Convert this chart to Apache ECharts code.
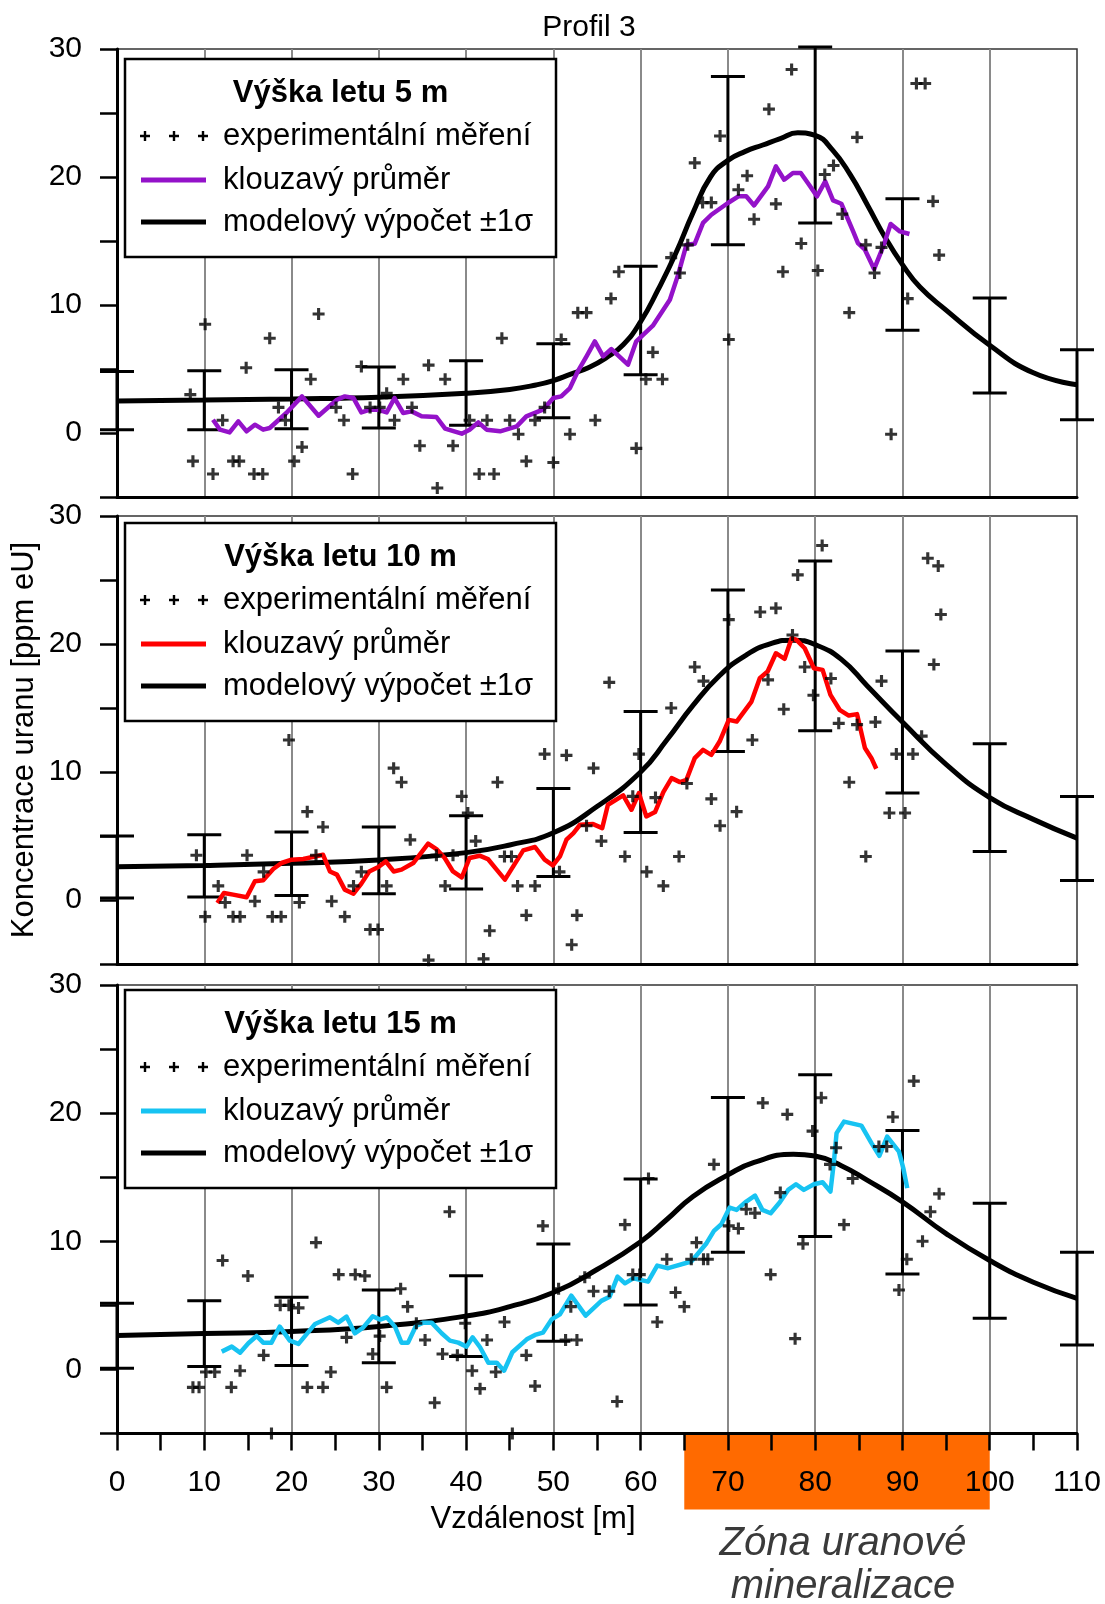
<!DOCTYPE html>
<html>
<head>
<meta charset="utf-8">
<script src="https://cdn.jsdelivr.net/npm/echarts@6/dist/echarts.min.js"></script>
<style>
html, body { margin: 0; padding: 0; background: #fff; }
#chart { width: 1105px; height: 1604px; }
</style>
</head>
<body>
<div id="chart"></div>
<script>
// Profil 3 – uranium concentration along the profile for three flight heights

const FONT = '"Liberation Sans", Arial, sans-serif';

// ---- tick labels / ranges ----
const xTicks = [0, 10, 20, 30, 40, 50, 60, 70, 80, 90, 100, 110];
const yTicks = [0, 10, 20, 30];

// ---- measurements (x = distance [m], y = ppm eU) ----
const scatter5 = [[8.4,3.0],[8.7,-2.2],[10.1,8.5],[11.0,-3.2],[12.1,1.0],[13.3,-2.2],[14.0,-2.2],[14.8,5.1],[15.7,-3.2],[16.7,-3.2],[17.5,7.4],[18.5,2.0],[19.3,1.0],[20.3,-2.2],[21.2,-1.1],[22.2,4.2],[23.1,9.3],[25.1,2.0],[26.0,1.0],[27.0,-3.2],[28.0,5.2],[29.0,2.0],[30.1,2.0],[30.9,3.1],[31.8,1.0],[32.8,4.2],[33.8,2.0],[34.7,-1.0],[35.7,5.3],[36.7,-4.3],[37.6,4.2],[38.5,-1.0],[40.4,1.0],[41.5,-3.2],[42.4,1.0],[43.2,-3.2],[44.1,7.4],[45.0,1.0],[46.0,-0.1],[46.9,-2.2],[47.9,1.0],[49.0,2.0],[50.0,-2.3],[50.9,7.3],[51.9,-0.1],[52.8,9.4],[53.8,9.4],[54.8,1.0],[56.6,10.5],[57.5,12.6],[59.5,-1.2],[60.6,4.2],[61.4,6.3],[62.5,4.2],[63.5,13.7],[64.5,12.5],[65.4,14.7],[66.2,21.1],[67.1,18.0],[68.1,18.0],[69.1,23.2],[70.1,7.3],[71.2,19.0],[72.2,20.1],[73.0,16.7],[74.7,25.3],[75.5,17.9],[76.3,12.6],[77.3,28.4],[78.4,14.8],[80.3,12.7],[81.1,20.2],[82.1,20.9],[83.1,17.1],[83.9,9.4],[84.8,23.1],[85.8,14.7],[86.8,12.5],[87.6,14.5],[88.7,-0.1],[90.6,10.5],[91.6,27.3],[92.6,27.3],[93.5,18.1],[94.2,13.9]];

const scatter10 = [[9.1,3.5],[10.1,-1.3],[11.6,1.1],[12.4,-0.2],[13.3,-1.3],[14.1,-1.3],[14.9,3.5],[15.8,-0.1],[16.8,2.2],[17.8,-1.3],[18.8,-1.3],[19.7,12.5],[20.9,-0.2],[21.8,6.9],[22.8,3.5],[23.6,5.7],[24.6,-0.1],[26.1,-1.3],[27.1,1.1],[28.0,2.2],[29.0,-2.3],[29.9,-2.3],[30.9,1.1],[31.7,10.3],[32.6,9.2],[33.6,4.7],[35.7,-4.7],[36.6,3.5],[37.6,1.1],[38.5,3.5],[39.5,8.1],[40.2,6.8],[41.1,4.6],[42.0,-4.6],[42.7,-2.4],[43.6,9.2],[44.4,3.4],[45.2,3.4],[45.9,1.1],[46.9,-1.2],[47.9,1.1],[49.0,11.4],[50.7,2.2],[51.5,11.3],[52.1,-3.5],[52.7,-1.2],[53.8,5.8],[54.6,10.3],[55.5,4.6],[56.4,17.0],[58.2,3.4],[59.1,8.1],[59.8,11.4],[60.7,2.2],[61.7,8.0],[62.6,1.1],[63.5,15.0],[64.4,3.4],[65.3,9.1],[66.2,18.2],[67.2,17.1],[68.1,7.9],[69.1,5.8],[70.1,21.9],[71.0,6.9],[72.8,12.5],[73.7,22.5],[74.6,17.2],[75.5,22.8],[76.4,14.9],[77.4,20.7],[78.0,25.4],[78.8,18.2],[79.8,16.0],[80.8,27.7],[81.8,17.3],[82.7,13.8],[83.9,9.2],[84.8,13.7],[85.8,3.4],[86.9,13.9],[87.6,17.1],[88.5,6.8],[89.3,11.4],[90.3,6.8],[91.2,11.4],[92.2,12.8],[92.9,26.7],[93.6,18.4],[94.1,26.1],[94.4,22.3]];

const scatter15 = [[8.7,-1.4],[9.4,-1.4],[10.2,-0.2],[11.2,-0.2],[12.1,8.5],[13.1,-1.4],[14.1,-0.1],[15.0,7.3],[16.8,1.1],[17.7,-5.0],[18.7,5.0],[19.7,5.0],[20.8,4.8],[21.8,-1.4],[22.8,9.9],[23.6,-1.4],[24.5,-0.2],[25.4,7.4],[26.3,2.5],[27.3,7.4],[28.4,7.3],[29.3,1.2],[30.1,2.6],[30.9,-1.4],[32.5,6.3],[33.3,4.9],[34.3,3.6],[35.3,2.3],[36.4,-2.6],[37.3,1.2],[38.1,12.3],[39.0,1.1],[39.9,3.6],[40.7,-0.1],[41.6,-1.5],[42.4,2.3],[43.4,-0.2],[44.4,3.7],[45.3,-5.0],[46.9,1.1],[47.9,-1.3],[48.8,11.2],[50.6,6.3],[51.4,2.3],[52.0,4.9],[52.7,2.3],[53.6,7.2],[54.6,6.1],[56.4,6.1],[57.3,-2.5],[58.2,11.3],[59.1,7.4],[59.9,7.4],[60.9,14.9],[61.9,3.7],[63.0,8.6],[64.0,6.0],[65.0,4.9],[65.8,8.6],[66.4,9.9],[67.2,8.6],[67.7,8.6],[68.4,16.0],[70.1,11.2],[71.2,11.0],[72.1,12.5],[73.1,12.2],[74.0,20.8],[74.9,7.4],[76.0,13.8],[76.8,19.9],[77.7,2.4],[78.6,9.8],[79.7,18.6],[80.7,21.2],[81.7,16.0],[82.4,17.3],[83.3,11.3],[84.3,14.9],[87.3,17.4],[88.2,17.4],[88.9,19.7],[89.6,6.2],[90.5,8.6],[91.3,22.5],[92.3,10.0],[93.2,12.3],[94.2,13.7]];

// ---- moving averages ----
const avg5 = [[11.0,1.04],[11.8,0.26],[12.9,0.05],[13.9,0.91],[14.85,0.13],[15.8,0.65],[16.75,0.26],[17.5,0.39],[19.4,1.56],[21.2,2.86],[23.1,1.35],[25.2,2.6],[26.1,2.86],[27.1,2.73],[28.0,1.61],[29.0,1.82],[29.9,1.82],[30.9,1.61],[31.8,2.73],[32.8,1.56],[33.75,1.69],[34.9,1.3],[36.6,1.25],[37.6,0.34],[39.5,-0.05],[40.4,0.26],[41.4,0.83],[42.35,0.26],[43.9,0.13],[45.8,0.52],[46.9,1.3],[48.8,1.82],[50.0,2.73],[50.9,2.86],[51.9,3.51],[52.8,4.82],[53.8,5.99],[54.75,7.16],[55.7,5.99],[56.65,6.56],[58.55,5.34],[59.5,7.16],[61.4,8.38],[63.35,10.41],[64.3,12.37],[65.25,14.71],[66.2,14.79],[67.15,16.41],[68.1,17.05],[70.0,17.97],[71.2,18.49],[72.1,18.49],[73.0,17.78],[74.6,19.27],[75.5,20.83],[76.45,19.79],[77.45,20.31],[78.35,20.31],[79.3,19.4],[80.2,18.49],[81.15,19.66],[82.05,18.17],[83.0,17.91],[84.35,15.75],[84.9,14.84],[85.7,14.32],[86.75,12.81],[87.8,14.58],[88.65,16.33],[89.7,15.75],[90.8,15.55]];

const avg10 = [[11.5,-0.23],[12.25,0.55],[13.3,0.42],[14.85,0.21],[15.8,1.46],[16.75,1.54],[17.9,2.42],[18.85,2.89],[20.0,3.15],[21.35,3.2],[23.6,3.54],[24.4,2.23],[25.2,1.98],[26.1,0.81],[27.1,0.49],[28.0,1.28],[28.9,2.23],[29.95,2.58],[30.8,3.02],[31.7,2.23],[32.6,2.37],[33.95,2.89],[35.65,4.4],[36.6,3.98],[37.55,3.28],[38.5,2.23],[39.5,1.76],[40.4,3.28],[41.55,3.46],[42.5,3.2],[43.5,2.37],[44.45,1.59],[45.4,2.63],[46.55,3.88],[47.9,4.14],[49.0,3.15],[49.95,2.7],[50.75,3.4],[51.5,4.71],[52.3,5.23],[53.05,5.88],[54.55,5.93],[55.6,5.62],[56.25,7.44],[58.0,8.17],[58.95,7.05],[59.8,8.35],[60.65,6.53],[61.65,6.87],[62.6,8.43],[63.55,9.52],[64.5,9.21],[65.25,9.39],[66.2,11.08],[67.15,11.73],[68.1,11.34],[69.05,12.38],[70.1,14.07],[71.0,13.94],[72.7,15.5],[73.65,17.33],[74.55,17.85],[75.5,19.28],[76.5,18.84],[77.3,20.45],[77.85,20.32],[78.8,19.67],[79.85,18.11],[80.85,17.98],[81.75,16.03],[82.8,14.86],[83.85,14.41],[84.8,14.52],[85.7,11.87],[86.45,11.08],[87.0,10.25]];

const avg15 = [[12.0,1.39],[13.15,1.78],[14.1,1.31],[15.05,2.04],[16.0,2.61],[16.75,2.09],[17.7,2.09],[18.65,3.34],[19.8,2.25],[20.8,1.99],[21.75,2.77],[22.7,3.55],[24.4,4.07],[25.35,3.65],[26.3,4.12],[27.25,2.82],[28.2,3.26],[29.3,4.15],[30.15,3.89],[30.9,4.07],[31.85,3.34],[32.6,2.09],[33.35,2.09],[34.25,3.39],[35.1,3.65],[36.05,3.65],[37.2,2.82],[38.15,2.25],[39.1,2.09],[40.05,1.78],[40.75,2.51],[41.6,1.73],[42.55,0.53],[43.5,0.53],[44.35,-0.1],[45.3,1.34],[46.95,2.35],[47.9,2.69],[48.8,2.87],[49.8,3.9],[50.75,4.3],[52.05,5.76],[53.7,4.2],[55.5,5.35],[56.45,5.68],[57.35,7.24],[58.2,6.72],[59.15,7.11],[60.85,6.85],[61.9,8.1],[63.15,7.9],[65.8,8.42],[66.6,9.07],[67.55,9.85],[68.4,10.81],[69.25,11.33],[70.2,12.63],[71.0,12.45],[72.1,13.1],[73.1,13.57],[73.95,12.45],[74.9,12.19],[75.95,13.05],[76.9,14.01],[77.8,14.45],[78.7,14.01],[79.85,14.45],[80.85,14.61],[81.75,13.88],[82.15,16.22],[82.45,18.44],[83.3,19.34],[85.3,19.03],[86.45,17.66],[87.35,16.67],[88.25,18.17],[89.6,17.0],[90.1,15.7],[90.55,14.15]];

// ---- model calculation ----
const model5 = [[0,2.5],[10,2.57],[20,2.66],[30,2.8],[40,3.1],[45,3.4],[48,3.75],[50,4.1],[52,4.6],[54,5.1],[56,5.85],[58,6.9],[60,8.7],[62,11.2],[64,14.0],[66,17.2],[68,20.0],[70,21.3],[72,22.0],[74,22.5],[76,23.0],[78,23.45],[80,23.25],[82,22.1],[84,20.2],[86,17.8],[88,15.3],[90,13.15],[92,11.4],[95,9.6],[100,6.85],[105,4.7],[110,3.77]];
const model10 = [[0,2.6],[10,2.7],[20,2.87],[30,3.13],[40,3.7],[45,4.3],[50,5.25],[55,7.3],[60,10.0],[63,12.5],[66,15.2],[69,17.5],[72,19.1],[75,20.05],[77.5,20.3],[80,19.95],[83,18.8],[86,16.7],[90,13.9],[95,10.6],[100,8.0],[105,6.3],[110,4.83]];
const model15 = [[0,2.65],[10,2.8],[20,2.96],[30,3.35],[40,4.17],[45,4.9],[50,6.0],[55,7.8],[60,9.97],[63,11.7],[66,13.5],[70,15.18],[73,16.15],[77.5,16.8],[80,16.65],[83,15.9],[86,14.75],[90,13.08],[95,10.6],[100,8.5],[105,6.8],[110,5.55]];

// ---- model ±1σ ----
const errX = [0, 10, 20, 30, 40, 50, 60, 70, 80, 90, 100, 110];
const err5Low   = [0.26, 0.26, 0.34, 0.39, 0.60, 1.20, 4.55, 14.71, 16.41, 8.02, 3.12, 1.04];
const err5High  = [4.81, 4.87, 4.95, 5.16, 5.65, 6.97, 13.02, 27.86, 30.15, 18.30, 10.55, 6.50];
const err10Low  = [0.16, 0.23, 0.36, 0.49, 0.86, 1.84, 5.28, 11.60, 13.22, 8.35, 3.79, 1.53];
const err10High = [5.00, 5.10, 5.31, 5.70, 6.58, 8.72, 14.72, 24.22, 26.49, 19.46, 12.20, 8.09];
const err15Low  = [0.09, 0.22, 0.30, 0.53, 1.00, 2.20, 5.03, 9.15, 10.37, 7.45, 4.00, 1.91];
const err15High = [5.17, 5.35, 5.63, 6.20, 7.32, 9.79, 14.87, 21.22, 22.99, 18.64, 12.97, 9.15];

// ---- mineralised zone along the profile ----
const zoneStart = 65;
const zoneEnd = 100;

const panels = [
  { title: 'Výška letu 5 m',  color: '#9412C9', scatter: scatter5,  avg: avg5,  model: model5,  lo: err5Low,  hi: err5High,  top: 49,  legendTop: 59 },
  { title: 'Výška letu 10 m', color: '#FF0000', scatter: scatter10, avg: avg10, model: model10, lo: err10Low, hi: err10High, top: 516, legendTop: 523 },
  { title: 'Výška letu 15 m', color: '#17C3F2', scatter: scatter15, avg: avg15, model: model15, lo: err15Low, hi: err15High, top: 985, legendTop: 990 }
];

const PLOT_LEFT = 117, PLOT_W = 960, PLOT_H = 448;
const PLUS = 'path://M-1.3,-5H1.3V-1.3H5V1.3H1.3V5H-1.3V1.3H-5V-1.3H-1.3Z';
// plus outline for the legend sample (half arm length 5, half thickness 1.2)
const PLUS_POINTS = [[-1.2,-5],[1.2,-5],[1.2,-1.2],[5,-1.2],[5,1.2],[1.2,1.2],[1.2,5],[-1.2,5],[-1.2,1.2],[-5,1.2],[-5,-1.2],[-1.2,-1.2]];

function renderErrorBar(params, api) {
  const x = api.value(0);
  const pLo = api.coord([x, api.value(1)]);
  const pHi = api.coord([x, api.value(2)]);
  const w = 17;
  const st = { stroke: '#000', lineWidth: 3 };
  return {
    type: 'group',
    children: [
      { type: 'line', shape: { x1: pLo[0], y1: pLo[1], x2: pHi[0], y2: pHi[1] }, style: st },
      { type: 'line', shape: { x1: pLo[0] - w, y1: pLo[1], x2: pLo[0] + w, y2: pLo[1] }, style: st },
      { type: 'line', shape: { x1: pHi[0] - w, y1: pHi[1], x2: pHi[0] + w, y2: pHi[1] }, style: st }
    ]
  };
}

function renderZone(params, api) {
  const a = api.coord([api.value(0), api.value(2)]);
  const b = api.coord([api.value(1), api.value(2)]);
  return {
    type: 'rect',
    shape: { x: a[0], y: a[1], width: b[0] - a[0], height: 76 },
    style: { fill: '#FF6A00' }
  };
}

const grids = [], xAxes = [], yAxes = [], series = [], graphics = [];

panels.forEach((p, i) => {
  const last = i === panels.length - 1;
  grids.push({
    left: PLOT_LEFT, top: p.top, width: PLOT_W, height: i === 2 ? 448.5 : PLOT_H,
    show: true, borderColor: '#333', borderWidth: 1.5, backgroundColor: 'transparent'
  });
  xAxes.push({
    gridIndex: i, type: 'value', min: xTicks[0], max: xTicks[xTicks.length - 1], interval: 5,
    position: 'bottom',
    axisLine: { show: true, onZero: false, lineStyle: { color: '#000', width: 3 } },
    axisTick: { show: last, length: 17, lineStyle: { color: '#000', width: 2.5 } },
    axisLabel: {
      show: last, margin: 34, fontSize: 30, fontFamily: FONT, color: '#000',
      formatter: v => (xTicks.indexOf(v) >= 0 ? String(v) : '')
    },
    splitLine: { show: false }
  });
  xAxes.push({
    gridIndex: i, type: 'value', min: xTicks[0], max: xTicks[xTicks.length - 1], interval: 10,
    position: 'top',
    axisLine: { show: false }, axisTick: { show: false }, axisLabel: { show: false },
    splitLine: { show: true, showMinLine: false, showMaxLine: false, lineStyle: { color: '#8a8a8a', width: 2 } }
  });
  yAxes.push({
    gridIndex: i, type: 'value', min: -5, max: 30, interval: 5,
    axisLine: { show: true, onZero: false, lineStyle: { color: '#000', width: 3 } },
    axisTick: { show: true, length: 17, lineStyle: { color: '#000', width: 2.5 } },
    axisLabel: {
      margin: 35, fontSize: 30, fontFamily: FONT, color: '#000',
      formatter: v => (yTicks.indexOf(v) >= 0 ? String(v) : '')
    },
    splitLine: { show: false }
  });

  const xi = i * 2;
  series.push({
    type: 'custom', name: 'sigma' + i, xAxisIndex: xi, yAxisIndex: i,
    renderItem: renderErrorBar, clip: false, z: 3,
    encode: { x: 0, y: [1, 2] },
    data: errX.map((x, k) => [x, p.lo[k], p.hi[k]])
  });
  series.push({
    type: 'line', name: 'model' + i, xAxisIndex: xi, yAxisIndex: i,
    data: p.model, showSymbol: false, smooth: 0.5,
    lineStyle: { color: '#000', width: 5 }, z: 4
  });
  series.push({
    type: 'line', name: 'avg' + i, xAxisIndex: xi, yAxisIndex: i,
    data: p.avg, showSymbol: false,
    lineStyle: { color: p.color, width: 4.5, join: 'round' }, z: 5
  });
  series.push({
    type: 'scatter', name: 'meas' + i, xAxisIndex: xi, yAxisIndex: i,
    data: p.scatter, symbol: PLUS, symbolSize: 12, clip: false,
    itemStyle: { color: '#000' }, z: 6
  });

  // legend box
  const L = 125, R = 556, T = p.legendTop;
  const txt = (text, x, y, extra) => ({
    type: 'text', x: x, y: y, z: 21,
    style: Object.assign({
      text: text, fontSize: 31, fontFamily: FONT, fill: '#000',
      align: 'left', verticalAlign: 'middle', textAlign: 'left', textVerticalAlign: 'middle'
    }, extra || {})
  });
  graphics.push({ type: 'rect', z: 20, shape: { x: L, y: T, width: R - L, height: 198 },
    style: { fill: '#fff', stroke: '#000', lineWidth: 2.5 } });
  graphics.push(txt(p.title, (L + R) / 2, T + 34,
    { fontWeight: 'bold', align: 'center', textAlign: 'center' }));
  [145, 174, 203].forEach(cx => graphics.push({
    type: 'polygon', z: 21, x: cx, y: T + 77, shape: { points: PLUS_POINTS },
    style: { fill: '#000' }
  }));
  graphics.push(txt('experimentální měření', 223, T + 77));
  graphics.push({ type: 'line', z: 21, shape: { x1: 141, y1: T + 121, x2: 206, y2: T + 121 },
    style: { stroke: p.color, lineWidth: 5 } });
  graphics.push(txt('klouzavý průměr', 223, T + 121));
  graphics.push({ type: 'line', z: 21, shape: { x1: 141, y1: T + 163, x2: 206, y2: T + 163 },
    style: { stroke: '#000', lineWidth: 5 } });
  graphics.push(txt('modelový výpočet ±1σ', 223, T + 163));
});

// mineralised zone box under the bottom axis
series.push({
  type: 'custom', name: 'zone', xAxisIndex: 4, yAxisIndex: 2,
  renderItem: renderZone, clip: false, z: -1,
  encode: { x: [0, 1], y: 2 },
  data: [[zoneStart, zoneEnd, -5]]
});

const plain = (text, x, y, size, extra) => Object.assign({
  type: 'text', x: x, y: y, z: 21,
  style: {
    text: text, fontSize: size, fontFamily: FONT, fill: '#000',
    align: 'center', verticalAlign: 'middle', textAlign: 'center', textVerticalAlign: 'middle'
  }
}, extra || {});

graphics.push(plain('Profil 3', 589, 28, 30));
graphics.push(plain('Koncentrace uranu [ppm eU]', 24, 740, 31, { rotation: Math.PI / 2 }));
graphics.push(plain('Vzdálenost [m]', 533, 1519, 31));
const zoneText1 = plain('Zóna uranové', 843, 1544, 40);
zoneText1.style.fontStyle = 'italic'; zoneText1.style.fill = '#3a3a3a';
const zoneText2 = plain('mineralizace', 843, 1587, 40);
zoneText2.style.fontStyle = 'italic'; zoneText2.style.fill = '#3a3a3a';
graphics.push(zoneText1, zoneText2);

const chart = echarts.init(document.getElementById('chart'), null, { renderer: 'canvas' });
chart.setOption({
  animation: false,
  backgroundColor: '#fff',
  grid: grids,
  xAxis: xAxes,
  yAxis: yAxes,
  series: series,
  graphic: { elements: graphics }
});
</script>
</body>
</html>
